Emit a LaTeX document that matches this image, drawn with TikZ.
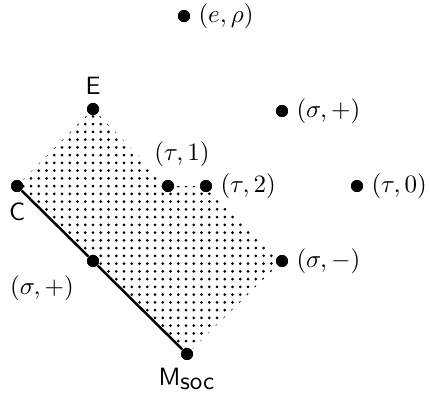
\documentclass[tikz,border=0pt]{standalone}
\usetikzlibrary{patterns.meta}
\begin{document}
\begin{tikzpicture}[x=0.4pt,y=-0.4pt,
  pt/.style={circle,fill=black,inner sep=0pt,minimum size=4.8pt},
  lab/.style={inner sep=3pt}]
\useasboundingbox (0,0) rectangle (430,403);
\node[pt] (E) at (93,109) {};
\node[pt] (C) at (17,186) {};
\node[pt] (t1) at (168,186) {};
\node[pt] (t2) at (206,186) {};
\node[pt] (t0) at (357,186) {};
\node[pt] (sp) at (93,261) {};
\node[pt] (sm) at (282,261) {};
\node[pt] (M) at (187,354) {};
\node[pt] (er) at (184,16) {};
\node[pt] (spu) at (282,111) {};
\fill[pattern={Dots[distance=3.1pt,radius=0.6pt]}] (E.center) -- (t1.center) -- (t2.center) -- (sm.center) -- (M.center) -- (C.center) -- cycle;
\draw[line width=1pt] (C) -- (sp) -- (M);
\foreach \n in {E,C,t1,t2,t0,sp,sm,M,er,spu} \node[pt] at (\n) {};
\node[lab,anchor=west] (ler) at (er.east) {$(e,\rho)$};
\node[lab,anchor=west] (lspu) at (spu.east) {$(\sigma,+)$};
\node[lab,anchor=south] (lE) at (E.north) {\textsf{E}};
\node[lab,anchor=north] (lC) at ([yshift=-1pt]C.south) {\textsf{C}};
\node[lab] (lt1) at (182,154) {$(\tau,1)$};
\node[lab,anchor=west] (lt2) at (t2.east) {$(\tau,2)$};
\node[lab,anchor=west] (lt0) at (t0.east) {$(\tau,0)$};
\node[lab] (lsp) at (42,288) {$(\sigma,+)$};
\node[lab,anchor=west] (lsm) at (sm.east) {$(\sigma,-)$};
\node[lab,anchor=north] (lM) at (M.south) {\textsf{M}$_{\textsf{soc}}$};
\end{tikzpicture}
\end{document}
